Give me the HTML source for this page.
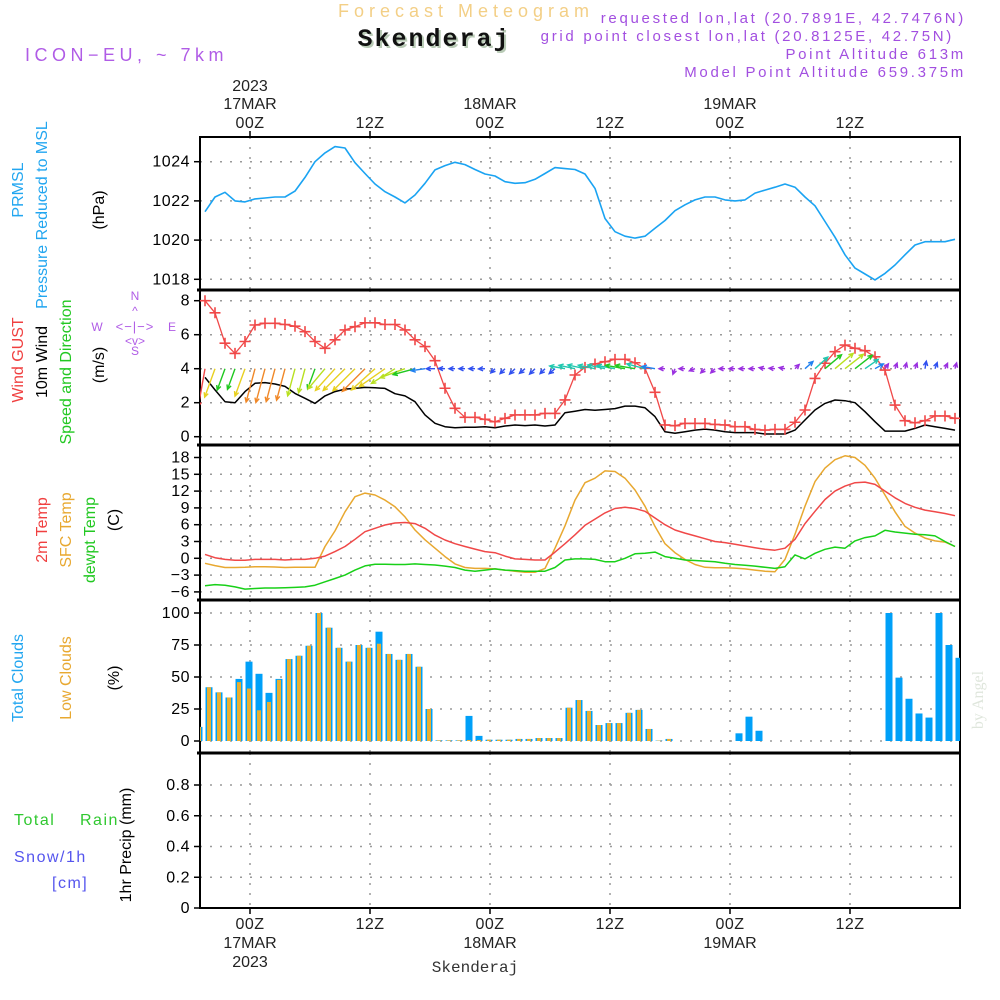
<!DOCTYPE html>
<html><head><meta charset="utf-8"><style>
html,body{margin:0;padding:0;background:#fff;}
svg{display:block;font-family:"Liberation Sans",sans-serif;}
</style></head><body>
<svg id="chart" width="1000" height="1000" viewBox="0 0 1000 1000" xmlns="http://www.w3.org/2000/svg">
<rect width="1000" height="1000" fill="#fff"/>
<text x="466" y="17" text-anchor="middle" font-size="18" letter-spacing="5" fill="#f3cf86">Forecast Meteogram</text>
<text x="436" y="48" text-anchor="middle" font-family="Liberation Mono,monospace" font-weight="bold" font-size="25" letter-spacing="2" fill="#b9cbb6">Skenderaj</text>
<text x="434" y="46" text-anchor="middle" font-family="Liberation Mono,monospace" font-weight="bold" font-size="25" letter-spacing="2" fill="#111">Skenderaj</text>
<text x="25" y="61" font-size="18" letter-spacing="4.5" fill="#b05ce6">ICON−EU, ~ 7km</text>
<g font-size="15" letter-spacing="2.7" fill="#a24fe0" text-anchor="end">
<text x="966" y="23">requested lon,lat (20.7891E, 42.7476N)</text>
<text x="954" y="41">grid point closest lon,lat (20.8125E, 42.75N)</text>
<text x="966" y="59">Point Altitude 613m</text>
<text x="966" y="77">Model Point Altitude 659.375m</text>
</g>
<g id="axes"></g>
<g id="marks"></g>
<g font-size="16">
<text transform="translate(23,190) rotate(-90)" text-anchor="middle" fill="#22a6f0">PRMSL</text>
<text transform="translate(47,215) rotate(-90)" text-anchor="middle" fill="#22a6f0">Pressure Reduced to MSL</text>
<text transform="translate(104,210) rotate(-90)" text-anchor="middle" fill="#000">(hPa)</text>
<text transform="translate(23,360) rotate(-90)" text-anchor="middle" fill="#f04040">Wind GUST</text>
<text transform="translate(47,362) rotate(-90)" text-anchor="middle" fill="#000">10m Wind</text>
<text transform="translate(71,372) rotate(-90)" text-anchor="middle" fill="#22c822">Speed and Direction</text>
<text transform="translate(104,365) rotate(-90)" text-anchor="middle" fill="#000">(m/s)</text>
<text transform="translate(47,530) rotate(-90)" text-anchor="middle" fill="#f04040">2m Temp</text>
<text transform="translate(71,530) rotate(-90)" text-anchor="middle" fill="#e8a830">SFC Temp</text>
<text transform="translate(95,540) rotate(-90)" text-anchor="middle" fill="#22c822">dewpt Temp</text>
<text transform="translate(119,520) rotate(-90)" text-anchor="middle" fill="#000">(C)</text>
<text transform="translate(23,678) rotate(-90)" text-anchor="middle" fill="#22a6f0">Total Clouds</text>
<text transform="translate(71,678) rotate(-90)" text-anchor="middle" fill="#e8a830">Low Clouds</text>
<text transform="translate(119,678) rotate(-90)" text-anchor="middle" fill="#000">(%)</text>
<text transform="translate(131,845) rotate(-90)" text-anchor="middle" fill="#000">1hr Precip (mm)</text>
<text x="14" y="825" fill="#30c830" font-size="16" letter-spacing="1.5">Total</text>
<text x="80" y="825" fill="#30c830" font-size="16" letter-spacing="1.5">Rain</text>
<text x="14" y="862" fill="#5555ee" font-size="16" letter-spacing="1.5">Snow/1h</text>
<text x="52" y="888" fill="#5555ee" font-size="16" letter-spacing="1.5">[cm]</text>
</g>
<g fill="#b05ce6" font-size="12" stroke="none">
<text x="135" y="300" text-anchor="middle">N</text>
<text x="135" y="355" text-anchor="middle">S</text>
<text x="97" y="331" text-anchor="middle">W</text>
<text x="172" y="331" text-anchor="middle">E</text>
<text x="135" y="331" text-anchor="middle" font-size="13" letter-spacing="1">&lt;−|−&gt;</text>
<text x="135" y="315" text-anchor="middle">^</text>
<text x="135" y="345" text-anchor="middle">&lt;v&gt;</text>
</g>
<text transform="translate(983,700) rotate(-90)" text-anchor="middle" font-family="Liberation Serif,serif" font-size="16" fill="#dfe6dc">by Angel</text>
<text x="475" y="972" text-anchor="middle" font-family="Liberation Mono,monospace" font-size="16" fill="#333">Skenderaj</text>
</svg>
<script>
// ---- data (hourly, first sample 4.5 h before 17MAR 00Z) ----
const startHour = -4.5;
const pressure = [1021.45,1022.2,1022.44,1022.0,1021.95,1022.1,1022.15,1022.2,1022.2,1022.5,1023.2,1024.0,1024.45,1024.77,1024.7,1023.95,1023.4,1022.86,1022.47,1022.2,1021.9,1022.3,1022.9,1023.58,1023.8,1023.97,1023.85,1023.6,1023.37,1023.27,1022.98,1022.9,1022.93,1023.1,1023.4,1023.7,1023.65,1023.6,1023.37,1022.64,1021.1,1020.43,1020.2,1020.1,1020.2,1020.6,1021.0,1021.5,1021.8,1022.05,1022.2,1022.2,1022.05,1022.0,1022.05,1022.4,1022.55,1022.7,1022.86,1022.7,1022.2,1021.75,1020.95,1020.15,1019.25,1018.57,1018.27,1017.97,1018.3,1018.73,1019.25,1019.75,1019.92,1019.92,1019.92,1020.04];
const gust = [8.0,7.29,5.5,4.9,5.6,6.57,6.67,6.67,6.6,6.5,6.18,5.6,5.2,5.7,6.28,6.47,6.7,6.7,6.6,6.6,6.28,5.7,5.3,4.47,2.85,1.67,1.14,1.14,1.02,0.88,1.08,1.28,1.28,1.28,1.37,1.37,2.16,3.63,4.08,4.28,4.41,4.55,4.55,4.35,4.02,2.61,0.69,0.65,0.78,0.78,0.78,0.72,0.69,0.59,0.59,0.43,0.39,0.43,0.43,0.85,1.57,3.43,4.32,5.0,5.39,5.2,5.06,4.7,3.92,1.86,0.94,0.82,0.94,1.22,1.22,1.08];
const windSpeed = [3.49,2.75,2.06,2.0,2.65,3.14,3.18,3.1,2.96,2.55,2.26,1.96,2.4,2.65,2.8,2.84,2.9,2.88,2.84,2.53,2.4,2.06,1.28,0.79,0.59,0.53,0.55,0.55,0.59,0.53,0.63,0.69,0.65,0.69,0.63,0.69,1.41,1.5,1.6,1.55,1.6,1.65,1.8,1.8,1.7,1.18,0.29,0.2,0.29,0.39,0.45,0.39,0.29,0.24,0.24,0.24,0.16,0.16,0.16,0.39,0.98,1.57,1.96,2.16,2.12,2.0,1.47,0.88,0.33,0.33,0.33,0.49,0.69,0.59,0.49,0.39];
const windDir = [190,200,200,200,200,195,195,195,195,195,195,200,220,222,225,225,225,228,235,238,250,255,262,270,272,270,270,270,268,225,225,225,230,225,225,230,280,282,282,282,282,280,280,280,285,280,270,200,270,250,225,225,270,270,270,270,280,275,280,45,48,48,50,50,52,52,55,60,35,20,15,20,10,20,25,15];
const temp2m = [0.7,0.1,-0.2,-0.35,-0.35,-0.2,-0.2,-0.2,-0.3,-0.2,-0.2,0,0.4,1.2,2.1,3.4,4.75,5.35,5.95,6.3,6.4,6.2,5.35,4.15,3.27,2.6,2.1,1.65,1.2,1.0,0.4,-0.1,-0.2,-0.3,-0.3,1.1,2.6,4.2,5.9,7.0,8.1,8.9,9.1,8.9,8.4,7.2,6.0,5.05,4.5,4.0,3.5,3.0,2.8,2.5,2.2,1.9,1.6,1.45,1.8,3.4,6.2,8.4,10.5,12.0,12.9,13.5,13.6,13.2,12.0,10.8,9.8,9.1,8.6,8.3,8.0,7.6];
const tempSfc = [-0.9,-1.3,-1.65,-1.65,-1.6,-1.5,-1.5,-1.55,-1.65,-1.6,-1.6,-1.6,2.1,4.9,8.3,11.0,11.65,11.3,10.4,9.2,7.4,5.05,3.3,1.8,0.3,-1.0,-1.65,-1.8,-1.8,-1.9,-2.1,-2.3,-2.5,-2.5,-1.8,1.8,5.8,10.4,13.5,14.3,15.6,15.5,14.3,12.2,9.3,5.7,2.6,1.0,-0.2,-1.1,-1.6,-1.7,-1.7,-1.75,-1.9,-2.1,-2.3,-2.4,-0.2,4.3,9.3,13.7,16.1,17.6,18.3,18.0,16.6,14.3,11.3,8.3,5.7,4.5,3.6,3.1,2.9,2.1];
const dewpt = [-4.9,-4.7,-4.8,-5.1,-5.5,-5.4,-5.3,-5.3,-5.25,-5.2,-5.1,-4.8,-4.2,-3.6,-3.0,-2.1,-1.35,-1.05,-1.05,-1.1,-1.1,-1.0,-1.1,-1.2,-1.4,-1.65,-2.1,-2.3,-2.1,-1.9,-2.1,-2.2,-2.3,-2.3,-2.3,-1.65,-0.3,-0.1,-0.1,-0.2,-0.6,-0.6,0,0.8,0.9,1.1,0.3,0,-0.3,-0.4,-0.5,-0.6,-0.9,-1.1,-1.25,-1.4,-1.6,-1.8,-1.5,0.6,-0.1,0.9,1.6,2.0,1.8,3.1,3.7,4.0,5.0,4.7,4.5,4.3,4.2,4.0,3.0,2.1];
const cloudStartHour = -5.5;
const totalClouds = [11,42,38,34,48.5,62,52.5,37.6,48.5,64,66.6,74.4,100,88.5,72.8,62,75,72.8,85.4,68,63.4,68,58,25,0.5,0.5,0.5,19.6,4,1,1,1,1.6,1.6,2.3,2.3,2.3,26,32,23.5,12.5,14,14,22,24.3,9.4,0.3,1.6,0,0,0,0,0,0,6,19,8,0,0,0,0,0,0,0,0,0,0,0,0,100,49.5,33,21.5,18.3,100,75,65];
const lowClouds = [11,42,38,34,46,41,24,30.5,47.8,64,66.6,74.4,100,88.5,72.8,62,75,72.8,76,68,63.4,68,58,25,0.5,0.5,0.5,0.8,0.8,1,1,1,1.6,1.6,2.3,2.3,2.3,26,32,23.5,12.5,14,14,22,24.3,9.4,0.3,1.6,0,0,0,0,0,0,0,0,0,0,0,0,0,0,0,0,0,0,0,0,0,0,0,0,0,0,0,0,0];
const pressTicks = [1018,1020,1022,1024];
const windTicks = [0,2,4,6,8];
const tempTicks = [-6,-3,0,3,6,9,12,15,18];
const cloudTicks = [0,25,50,75,100];
const precipTicks = [0,0.2,0.4,0.6,0.8];
const timeTicks = [0,12,24,36,48,60];
const timeLabels = ["00Z","12Z","00Z","12Z","00Z","12Z"];
const dayLabels = ["17MAR","","18MAR","","19MAR",""];

// ---- scales ----
const X0=200, X1=960;
const xOf = h => 250 + 10*h;
const panels = {
  p:{top:137,bot:290,y:v=>161.7+(1024-v)*19.6},
  w:{top:290,bot:445,y:v=>436.7-17*v},
  t:{top:445,bot:600,y:v=>558.3-5.6*v},
  c:{top:600,bot:753,y:v=>741-1.28*v},
  r:{top:753,bot:908,y:v=>908-153.75*v}
};
const NS='http://www.w3.org/2000/svg';
const axes=document.getElementById('axes'), marks=document.getElementById('marks');
function mk(tag,attrs,parent){const e=document.createElementNS(NS,tag);for(const k in attrs)e.setAttribute(k,attrs[k]);parent.appendChild(e);return e;}

const defs=mk('defs',{},axes);
const cp=mk('clipPath',{id:'plotclip'},defs);
mk('rect',{x:X0,y:137,width:X1-X0,height:771},cp);

function yAxis(pn,ticks,fmt,name){
  const P=panels[pn];
  ticks.forEach(v=>{
    const y=P.y(v);
    const g=mk('line',{x1:X0,x2:X1,y1:y,y2:y,stroke:'#9a9a9a','stroke-width':1.5,'stroke-dasharray':'2 8'},axes);
    
    
    const tk=mk('line',{x1:X0-6,x2:X0,y1:y,y2:y,stroke:'#000','stroke-width':1.5},axes);
    
    
    const t=mk('text',{x:X0-10,y:y+5,'text-anchor':'end','font-size':16,fill:'#000','letter-spacing':0.5},axes);
    
    
    t.textContent=fmt(v);
  });
  timeTicks.forEach(h=>{
    const x=xOf(h);
    const g=mk('line',{x1:x,x2:x,y1:P.top,y2:P.bot,stroke:'#9a9a9a','stroke-width':1.5,'stroke-dasharray':'2 8'},axes);
    
    
  });
  const fr=mk('rect',{x:X0,y:P.top,width:X1-X0,height:P.bot-P.top,fill:'none',stroke:'#000','stroke-width':2},axes);
  
  
}
yAxis('p',pressTicks,v=>String(v),'pressure');
yAxis('w',windTicks,v=>String(v),'wind');
yAxis('t',tempTicks,v=>v<0?'−'+(-v):String(v),'temp');
yAxis('c',cloudTicks,v=>String(v),'cloud');
yAxis('r',precipTicks,v=>v===0?'0':v.toFixed(1),'precip');
[290,445,600,753].forEach(y=>{const l=mk('line',{x1:X0-3,x2:X1+1,y1:y,y2:y,stroke:'#000','stroke-width':3},axes);

});
const bl=mk('line',{x1:X0,x2:X1,y1:908,y2:908,stroke:'#000','stroke-width':2,'stroke-dasharray':'6 2'},axes);



timeTicks.forEach((h,i)=>{
  const x=xOf(h);
  mk('line',{x1:x,x2:x,y1:131,y2:137,stroke:'#000','stroke-width':1.5},axes);
  mk('line',{x1:x,x2:x,y1:908,y2:914,stroke:'#000','stroke-width':1.5},axes);
  const t=mk('text',{x:x,y:128,'text-anchor':'middle','font-size':16,fill:'#222','letter-spacing':0.5},axes);
  
  
  t.textContent=timeLabels[i];
  const b=mk('text',{x:x,y:929,'text-anchor':'middle','font-size':16,fill:'#222','letter-spacing':0.5},axes);
  
  
  b.textContent=timeLabels[i];
  if(dayLabels[i]){
    const d=mk('text',{x:x,y:109,'text-anchor':'middle','font-size':16,fill:'#222'},axes);
    
    
    d.textContent=dayLabels[i];
    const d2=mk('text',{x:x,y:948,'text-anchor':'middle','font-size':16,fill:'#222'},axes);
    
    
    d2.textContent=dayLabels[i];
  }
});
[91,967].forEach(yy=>{const t=mk('text',{x:xOf(0),y:yy,'text-anchor':'middle','font-size':16,fill:'#222'},axes);


t.textContent='2023';});

const mg=mk('g',{'clip-path':'url(#plotclip)'},marks);
function line(arr,pn,color,name,w){
  const P=panels[pn];
  const d=arr.map((v,i)=>(i?'L':'M')+xOf(startHour+i).toFixed(1)+' '+P.y(v).toFixed(1)).join(' ');
  const p=mk('path',{d:d,fill:'none',stroke:color,'stroke-width':w||1.5,'stroke-linejoin':'round'},mg);
  
  
}
const cg=mk('g',{},mg);


totalClouds.forEach((v,i)=>{
  const x=xOf(cloudStartHour+i)+0.5, C=panels.c;
  if(v>0){const r=mk('rect',{x:x,y:C.y(v),width:7,height:C.y(0)-C.y(v),fill:'#00a0f8'},cg);
  
  }
  const lv=lowClouds[i];
  if(lv>0){const r2=mk('rect',{x:x+1.5,y:C.y(lv),width:4,height:C.y(0)-C.y(lv),fill:'#e8ae30'},cg);
  
  }
});
line(pressure,'p','#1aa3f2','pressure-line',1.6);
line(windSpeed,'w','#000','wind-speed-line',1.5);
line(gust,'w','#f04848','wind-gust-line',1.3);
gust.forEach((v,i)=>{
  const x=xOf(startHour+i), y=panels.w.y(v);
  const m=mk('path',{d:`M${x-5.5} ${y}H${x+5.5}M${x} ${y-5.5}V${y+5.5}`,stroke:'#f04848','stroke-width':1.6},mg);
  
  
});
function speedColor(s){
  if(s<0.5) return '#9a30e0';
  if(s<0.8) return '#3050f0';
  if(s<1.3) return '#2080f0';
  if(s<1.75) return '#20c8b0';
  if(s<2.1) return '#20c820';
  if(s<2.6) return '#b8e020';
  if(s<2.9) return '#e8d020';
  if(s<3.3) return '#f08828';
  return '#f04848';
}
const by=panels.w.y(4);
windSpeed.forEach((s,i)=>{
  const x=xOf(startHour+i), b=windDir[i]*Math.PI/180, L=Math.max(6,s*11);
  const dx=Math.sin(b), dy=-Math.cos(b);
  const ex=x+dx*L, ey=by+dy*L;
  const h=5, a=0.45;
  const hx1=ex-h*(dx*Math.cos(a)-dy*Math.sin(a)), hy1=ey-h*(dy*Math.cos(a)+dx*Math.sin(a));
  const hx2=ex-h*(dx*Math.cos(-a)-dy*Math.sin(-a)), hy2=ey-h*(dy*Math.cos(-a)+dx*Math.sin(-a));
  const c=speedColor(s);
  const ar=mk('path',{d:`M${x} ${by}L${ex.toFixed(1)} ${ey.toFixed(1)}M${hx1.toFixed(1)} ${hy1.toFixed(1)}L${ex.toFixed(1)} ${ey.toFixed(1)}L${hx2.toFixed(1)} ${hy2.toFixed(1)}`,stroke:c,'stroke-width':1.4,fill:'none'},mg);
  
  
});
line(tempSfc,'t','#e8a830','sfc-temp-line',1.5);
line(temp2m,'t','#f04848','2m-temp-line',1.5);
line(dewpt,'t','#18d018','dewpoint-line',1.5);
</script>
</body></html>
